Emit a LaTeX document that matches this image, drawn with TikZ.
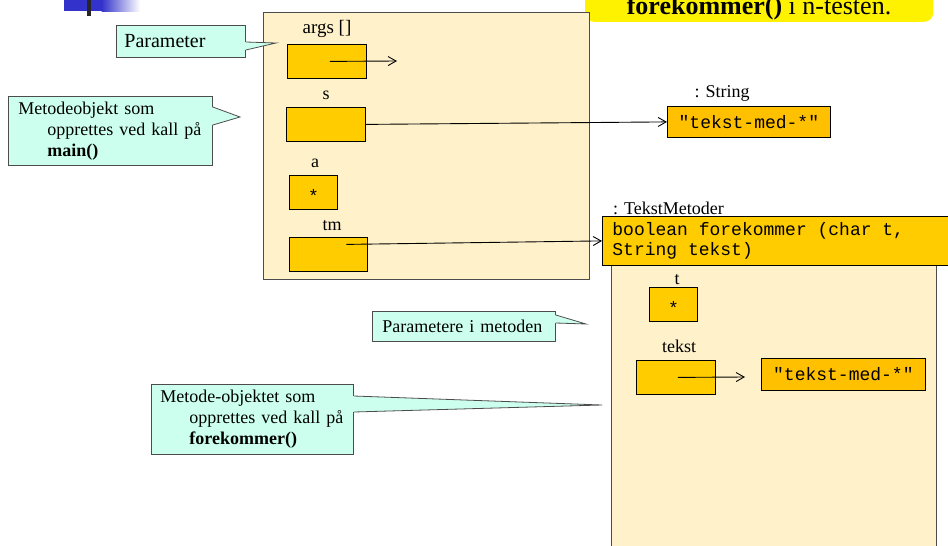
\documentclass[tikz,border=0pt]{standalone}
\usepackage{fontspec}
\setmainfont{Liberation Serif}
\setmonofont{Liberation Mono}
\usetikzlibrary{arrows.meta}

\definecolor{cream}{HTML}{FFF2CB}
\definecolor{gold}{HTML}{FFCC00}
\definecolor{amber}{HTML}{FFC000}
\definecolor{mint}{HTML}{CCFFEE}
\definecolor{logoblue}{HTML}{3333CC}

\newcommand{\msp}{\hspace*{0.6em}}

\tikzset{
  frame/.style={draw=black!70, line width=1.2pt, fill=cream, anchor=north west, inner sep=0pt},
  var/.style={draw=black, line width=0.8pt, fill=gold, anchor=north west, inner sep=0pt,
    minimum width=79pt, minimum height=34pt, font=\fontsize{18}{20}\selectfont\ttfamily},
  star/.style={var, minimum width=48pt, text height=20pt, text depth=0pt},
  strobj/.style={draw=black, line width=0.8pt, fill=amber, anchor=north west, inner sep=0pt,
    minimum height=32pt, font=\fontsize{18}{20}\selectfont\ttfamily},
  lbl/.style={anchor=base, inner sep=0pt, font=\fontsize{18}{21}\selectfont},
  note/.style={fill=mint, draw=black!70, line width=0.8pt, anchor=north west, align=left,
    inner ysep=0pt, inner xsep=10pt, font=\fontsize{18}{21}\selectfont},
  calledge/.style={draw=black!70, line width=0.8pt},
  ref/.style={line width=0.9pt, -{Straight Barb[length=8pt,width=9pt]}},
}

\begin{document}
\begin{tikzpicture}[x=1pt,y=-1pt]
\useasboundingbox (0,0) rectangle (948,546);
\clip (0,0) rectangle (948,546);

\fill[logoblue] (64,0) rectangle (102,11);
\shade[left color=logoblue,right color=white] (101.5,0) rectangle (140,11);
\fill[black!85] (87,0) rectangle (91,16);

\node[fill=yellow, rounded corners=9pt, minimum width=348pt, minimum height=60pt, anchor=south west] (topnote) at (585,22) {};
\node[anchor=base, inner sep=0pt, font=\fontsize{26}{30}\selectfont] (toptext) at (759,14) {\textbf{forekommer()} i n-testen.};

\node[frame, minimum width=326pt, minimum height=267pt] (mainobj) at (263,12) {};
\node[lbl, font=\fontsize{19}{21}\selectfont] (argslbl) at (327,33) {args []};
\node[var] (args) at (287,44) {};
\node[lbl] (slbl) at (326,99) {s};
\node[var] (s) at (286,107) {};
\node[lbl] (albl) at (315,167) {a};
\node[star] (a) at (289,175) {*};
\node[lbl] (tmlbl) at (332,230) {tm};
\node[var, minimum width=78pt] (tm) at (289,237) {};

\node[lbl] (strAlbl) at (722,97) {: String};
\node[strobj, minimum width=163pt, minimum height=31pt] (strA) at (667,106) {"tekst-med-*"};

\node[lbl, anchor=base west] (tmetlbl) at (613,214) {: TekstMetoder};
\node[frame, minimum width=325pt, minimum height=300pt] (body) at (611,260) {};
\node[var, minimum height=49pt, text width=330pt, inner xsep=10pt, align=left] (hdr) at (602,216)
  {boolean\msp forekommer\msp(char\msp t,\\String\msp tekst)};
\node[lbl] (tlbl) at (677,284) {t};
\node[star] (t) at (649,287) {*};
\node[lbl] (tekstlbl) at (679,352) {tekst};
\node[var] (tekst) at (636,360) {};
\node[strobj, minimum width=164pt] (strB) at (761,358) {"tekst-med-*"};

\coordinate (argsend) at (397,61);
\coordinate (tekstend) at (745,377);
\draw[ref] ([xshift=3pt]args.center) -- (argsend);
\draw[ref] (s.east) -- (strA.west);
\draw[ref] ([shift={(18pt,10pt)}]tm.center) -- (hdr.west);
\draw[ref] ([xshift=2pt]tekst.center) -- (tekstend);

\node[note, font=\fontsize{20}{23}\selectfont, text width=113pt, inner xsep=8pt, minimum height=32pt] (parnote) at (116,25) {Parameter};
\coordinate (partip) at (276,43);
\fill[mint] ([xshift=-1pt,yshift=-17pt]parnote.north east) -- (partip) -- ([xshift=-1pt,yshift=-25pt]parnote.north east) -- cycle;
\draw[calledge] ([yshift=-17pt]parnote.north east) -- (partip) -- ([yshift=-25pt]parnote.north east);

\node[note, text width=184pt, minimum height=69pt] (mainnote) at (8,96)
  {Metodeobjekt som\\\hspace*{29pt}opprettes ved kall på\\\hspace*{29pt}\textbf{main()}};
\coordinate (maintip) at (240,117);
\fill[mint] ([xshift=-1pt,yshift=-11pt]mainnote.north east) -- (maintip) -- ([xshift=-1pt,yshift=-29pt]mainnote.north east) -- cycle;
\draw[calledge] ([yshift=-11pt]mainnote.north east) -- (maintip) -- ([yshift=-29pt]mainnote.north east);

\node[note, text width=163pt, minimum height=30pt] (argnote) at (372,311) {Parametere i metoden};
\coordinate (argtip) at (586,324);
\fill[mint] ([xshift=-1pt,yshift=-4pt]argnote.north east) -- (argtip) -- ([xshift=-1pt,yshift=-12pt]argnote.north east) -- cycle;
\draw[calledge] ([yshift=-4pt]argnote.north east) -- (argtip) -- ([yshift=-12pt]argnote.north east);

\node[note, text width=188pt, inner xsep=7pt, minimum height=70pt] (metnote) at (151,384)
  {\hspace*{2pt}Metode-objektet som\\\hspace*{31pt}opprettes ved kall på\\\hspace*{31pt}\textbf{forekommer()}};
\coordinate (mettip) at (602,405);
\fill[mint] ([xshift=-1pt,yshift=-12pt]metnote.north east) -- (mettip) -- ([xshift=-1pt,yshift=-28pt]metnote.north east) -- cycle;
\draw[calledge] ([yshift=-12pt]metnote.north east) -- (mettip) -- ([yshift=-28pt]metnote.north east);
\end{tikzpicture}
\end{document}
